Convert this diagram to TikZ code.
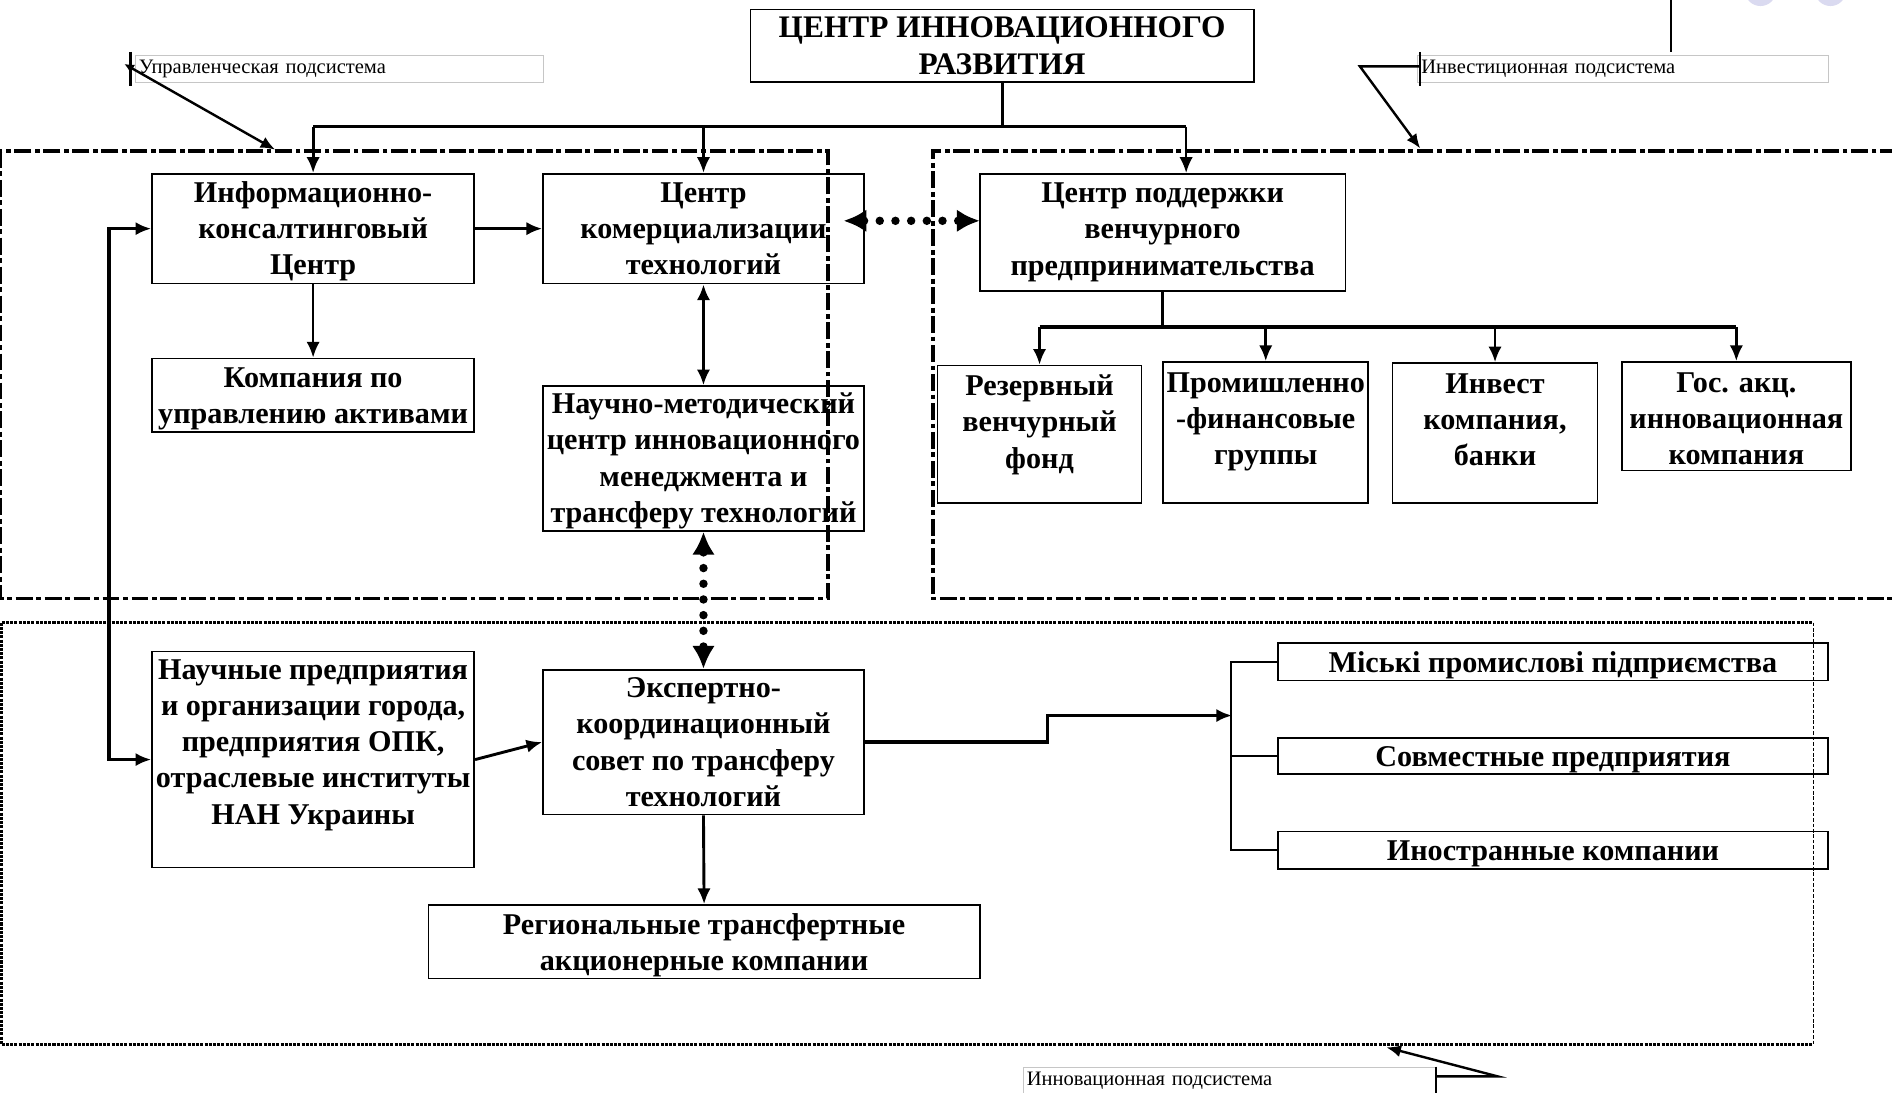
\documentclass[tikz,border=0pt]{standalone}
\usepackage{fontspec}
\setmainfont{Liberation Serif}
\usetikzlibrary{arrows.meta}
\definecolor{lavcirc}{RGB}{218,218,240}
\begin{document}
\begin{tikzpicture}[x=1pt,y=-1pt,
  box/.style={draw, line width=1.4pt, inner sep=0pt, rectangle},
  btxt/.style={font=\bfseries\fontsize{25}{30}\selectfont, align=center, inner sep=0pt},
  ttxt/.style={font=\bfseries\fontsize{26}{31}\selectfont, align=center, inner sep=0pt},
  lblbox/.style={draw=gray!45, line width=0.8pt, inner sep=0pt, minimum height=22pt, align=left, font=\fontsize{17}{20}\selectfont},
  ln/.style={line width=2.4pt},
  arr/.style={ln, -{Latex[length=13pt,width=11pt]}},
  barr/.style={ln, {Latex[length=13pt,width=11pt]}-{Latex[length=13pt,width=11pt]}},
  dotarr/.style={line width=7pt, dash pattern=on 0pt off 13pt, line cap=round, {Latex[length=19pt,width=19pt]}-{Latex[length=19pt,width=19pt]}},
  regD/.style={line width=3pt, dash pattern=on 14pt off 3pt on 4pt off 3pt},
  regL/.style={line width=2.5pt, dash pattern=on 2.5pt off 1pt},
  call/.style={line width=2pt},
  callarr/.style={call, -{Latex[length=12pt,width=10pt]}}
]
\useasboundingbox (0,0) rectangle (1568,905);

% decorative circles at the top
\fill[lavcirc] (1459,-8) circle (13);
\fill[lavcirc] (1517,-8) circle (13);
\coordinate (vt1) at (1385,0);
\coordinate (vt2) at (1385,43);
\draw[line width=1.5pt] (vt1) -- (vt2);

% regions
\draw[regD] (0,125) rectangle (686,496);
\draw[regD] (1572,125) -- (773,125) -- (773,496) -- (1572,496);
\draw[regL] (1.5,516) -- (1503,516);
\draw[regL] (1.5,866) -- (1503,866);
\draw[regL] (1.5,516) -- (1.5,866);
\draw[line width=1.2pt, dash pattern=on 3pt off 1.5pt] (1503,516) -- (1503,866);

% title
\node[box, minimum width=417pt, minimum height=60pt, label={[ttxt,name=titleT]center:{ЦЕНТР ИННОВАЦИОННОГО\\РАЗВИТИЯ}}] (title) at (830.5,38) {};

% boxes
\node[box, minimum width=267pt, minimum height=91pt, label={[btxt,name=infoT,yshift=-2pt]center:{Информационно-\\консалтинговый\\Центр}}] (info) at (259.5,189.5) {};
\node[box, minimum width=266pt, minimum height=91pt, label={[btxt,name=ckomT]center:{Центр\\комерциализации\\технологий}}] (ckom) at (583,189.5) {};
\node[box, minimum width=267pt, minimum height=61pt, label={[btxt,name=kompT,yshift=-3pt]center:{Компания по\\управлению активами}}] (komp) at (259.5,327.5) {};
\node[box, minimum width=266pt, minimum height=120pt, label={[btxt,name=nmcT,yshift=-2pt]center:{Научно-методический\\центр инновационного\\менеджмента и\\трансферу технологий}}] (nmc) at (583,380) {};
\node[box, minimum width=303pt, minimum height=97pt, label={[btxt,name=cpvT]center:{Центр поддержки\\венчурного\\предпринимательства}}] (cpv) at (963.5,192.5) {};
\node[box, minimum width=169pt, minimum height=114pt, label={[btxt,name=rezT,yshift=8pt]center:{Резервный\\венчурный\\фонд}}] (rez) at (861.5,360) {};
\node[box, minimum width=170pt, minimum height=117pt, label={[btxt,name=promT,yshift=9pt]center:{Промишленно\\-финансовые\\группы}}] (prom) at (1049,358.5) {};
\node[box, minimum width=170pt, minimum height=116pt, label={[btxt,name=invT,yshift=11pt]center:{Инвест\\компания,\\банки}}] (inv) at (1239,359) {};
\node[box, minimum width=190pt, minimum height=90pt, label={[btxt,name=gosT,yshift=-2pt]center:{Гос. акц.\\инновационная\\компания}}] (gos) at (1439,345) {};
\node[box, minimum width=267pt, minimum height=179pt, label={[btxt,name=nauchT,yshift=12pt]center:{Научные предприятия\\и организации города,\\предприятия ОПК,\\отраслевые институты\\НАН Украины}}] (nauch) at (259.5,629.5) {};
\node[box, minimum width=266pt, minimum height=120pt, label={[btxt,name=expT]center:{Экспертно-\\координационный\\совет по трансферу\\технологий}}] (exp) at (583,615) {};
\node[box, minimum width=457pt, minimum height=61pt, label={[btxt,name=regT,yshift=-3pt]center:{Региональные трансфертные\\акционерные компании}}] (reg) at (583.5,780.5) {};
\node[box, minimum width=456pt, minimum height=31pt, label={[btxt,name=miskT,yshift=-3pt]center:{Міські промислові підприємства}}] (misk) at (1287,548.5) {};
\node[box, minimum width=456pt, minimum height=30pt, label={[btxt,name=sovmT,yshift=-3pt]center:{Совместные предприятия}}] (sovm) at (1287,626.5) {};
\node[box, minimum width=456pt, minimum height=31pt, label={[btxt,name=inosT,yshift=-3pt]center:{Иностранные компании}}] (inos) at (1287,704.5) {};

% subsystem labels
\node[lblbox, minimum width=338pt, text width=332pt] (upr) at (281,57) {Управленческая подсистема};
\node[lblbox, minimum width=340pt, text width=334pt] (invl) at (1345,57) {Инвестиционная подсистема};
\node[lblbox, minimum width=342pt, text width=336pt] (innl) at (1019,896) {Инновационная подсистема};

% callouts of the labels
\coordinate (uprT) at (108,43);
\coordinate (uprB) at (108,71);
\coordinate (uprS) at (103,53);
\coordinate (uprE) at (228,124);
\draw[call] (uprT) -- (uprB);
\draw[call, {Latex[length=8pt,width=8pt]}-{Latex[length=12pt,width=10pt]}] (uprS) -- (uprE);

\coordinate (invT) at (1177,43);
\coordinate (invB) at (1177,71);
\coordinate (invM) at (1177,55);
\coordinate (invK) at (1127,55);
\coordinate (invE) at (1177,123);
\draw[call] (invT) -- (invB);
\draw[callarr] (invM) -- (invK) -- (invE);

\coordinate (innT) at (1190,884);
\coordinate (innB) at (1190,908);
\coordinate (innM) at (1190,892);
\coordinate (innK) at (1241,892);
\coordinate (innE) at (1149,868);
\draw[call] (innT) -- (innB);
\draw[callarr] (innM) -- (innK) -- (innE);

% connectors from title
\coordinate (tj) at (830.5,105);
\coordinate (hL) at (259.5,105);
\coordinate (hR) at (983,105);
\draw[ln] (title.south) -- (tj);
\draw[ln] (hL) -- (hR);
\draw[arr] (hL) -- (info.north);
\draw[arr] (ckom.north |- hL) -- (ckom.north);
\draw[arr, line width=1.8pt] (hR) -- (hR |- cpv.north);

% upper-left connectors
\draw[arr] (info.east) -- (ckom.west);
\draw[arr, line width=2pt] (info.south) -- (komp.north);
\draw[barr] (ckom.south) -- (nmc.north);

% dotted links
\coordinate (dl) at (699,183);
\coordinate (dr) at (812,183);
\draw[dotarr] (dl) -- (dr);
\draw[dotarr] (nmc.south) -- (exp.north);

% venture distribution
\coordinate (dj) at (963.5,271);
\draw[ln, line width=3pt] (cpv.south) -- (dj);
\draw[ln, line width=3pt] (rez.north |- dj) -- (gos.north |- dj);
\draw[arr] (rez.north |- dj) -- (rez.north);
\draw[arr] (prom.north |- dj) -- (prom.north);
\draw[arr] (inv.north |- dj) -- (inv.north);
\draw[arr] (gos.north |- dj) -- (gos.north);

% left feedback line
\draw[barr, line width=3pt] (info.west) -- ++(-35,0) |- (nauch.west);

% lower connectors
\draw[arr] (nauch.east) -- (exp.west);
\draw[arr] (exp.south) -- (reg.north);
\coordinate (s1) at (868,615);
\coordinate (s2) at (868,593);
\coordinate (brk) at (1021,593);
\draw[arr, line width=3pt] (exp.east) -- (s1) -- (s2) -- (brk);
\draw[line width=1.3pt] (misk.west) -- ++(-38,0) |- (inos.west);
\draw[line width=1.3pt] (sovm.west) -- ++(-38,0);
\end{tikzpicture}
\end{document}
